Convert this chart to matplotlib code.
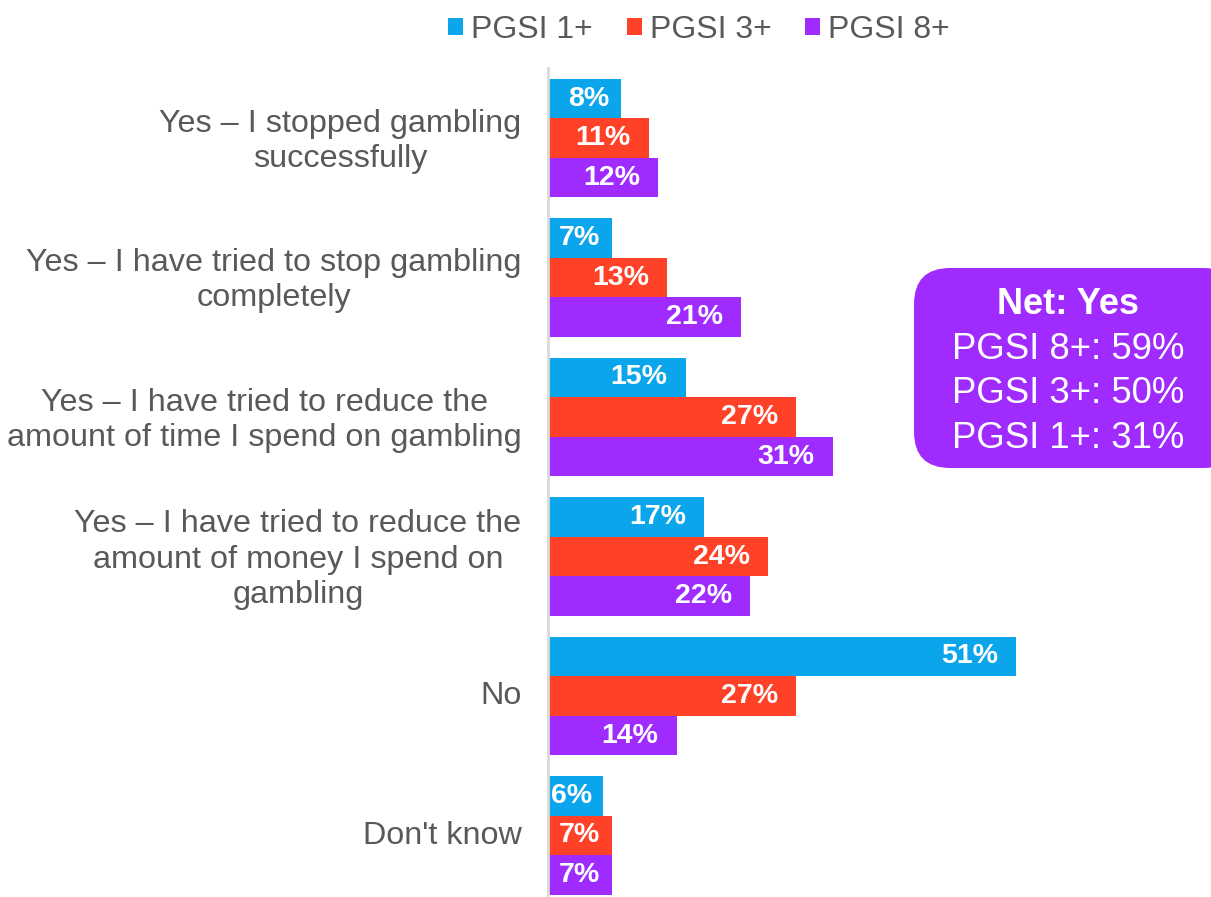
import numpy as np
import matplotlib.pyplot as plt
import matplotlib.transforms as mtransforms
from matplotlib.patches import Patch, FancyBboxPatch

plt.rcParams['font.family'] = ['Liberation Sans', 'DejaVu Sans']

# Survey answers and shares by PGSI group
categories = [
    "Yes \u2013 I stopped gambling\nsuccessfully",
    "Yes \u2013 I have tried to stop gambling\ncompletely",
    "Yes \u2013 I have tried to reduce the\namount of time I spend on gambling",
    "Yes \u2013 I have tried to reduce the\namount of money I spend on\ngambling",
    "No",
    "Don't know",
]
series_names = ["PGSI 1+", "PGSI 3+", "PGSI 8+"]
pgsi1 = [8, 7, 15, 17, 51, 6]
pgsi3 = [11, 13, 27, 24, 27, 7]
pgsi8 = [12, 21, 31, 22, 14, 7]
net_title = "Net: Yes"
net_lines = ["PGSI 8+: 59%", "PGSI 3+: 50%", "PGSI 1+: 31%"]

colors = ["#0AA5EB", "#FF4127", "#A02BFF"]
grey = "#595959"

fig = plt.figure(figsize=(12.11, 8.97), dpi=100)
ax = fig.add_axes([548 / 1211, 0.0, 663 / 1211, 1 - 68 / 897])
px_per_unit = 9.18

y = np.arange(len(categories))
h = 0.2833
for i, (vals, col) in enumerate(zip([pgsi1, pgsi3, pgsi8], colors)):
    pos = y + (i - 1) * h
    ax.barh(pos, vals, height=h, color=col, edgecolor='none')
    for p, v in zip(pos, vals):
        # labels sit inside the bar end; short bars get a tighter inset
        pad = 18 if v >= 10 else 12
        pad = min(pad, v * px_per_unit - 44)
        ax.annotate(f"{v}%", xy=(v, p), xytext=(-pad, 0), textcoords='offset pixels',
                    ha='right', va='center', color='white', fontsize=20.5,
                    fontweight='bold')

ax.set_xlim(0, 663 / px_per_unit)
ax.set_ylim(5.441, -0.502)
ax.set_yticks(y)
ax.set_yticklabels(categories, fontsize=23.3, color=grey, ha='right',
                   multialignment='center', linespacing=1.22)
ax.tick_params(axis='y', length=0, pad=19)
ax.set_xticks([])
for s in ['top', 'right', 'bottom']:
    ax.spines[s].set_visible(False)
ax.spines['left'].set_color('#D9D9D9')
ax.spines['left'].set_linewidth(2)

# nudge category labels up a touch
lift = mtransforms.ScaledTranslation(0, 3 / 100, fig.dpi_scale_trans)
for lab in ax.get_yticklabels():
    lab.set_transform(lab.get_transform() + lift)

# Legend across the top
handles = [Patch(facecolor=c, edgecolor='none') for c in colors]
fig.legend(handles, series_names, loc='center', bbox_to_anchor=(699 / 1211, 1 - 30 / 897),
           ncol=3, frameon=False, fontsize=23, labelcolor=grey,
           handlelength=0.47, handleheight=0.47, handletextpad=0.25,
           columnspacing=1.05, borderaxespad=0)

# Net summary box
box = FancyBboxPatch((914 / 1211, 1 - 468 / 897), (1240 - 914) / 1211, 200 / 897,
                     boxstyle="round,pad=0,rounding_size=0.03",
                     transform=fig.transFigure, facecolor=colors[2], edgecolor='none',
                     mutation_aspect=1211 / 897)
fig.add_artist(box)
fig.text(1068 / 1211, 1 - 305 / 897, net_title, color='white', fontsize=26,
         fontweight='bold', ha='center', va='center')
for k, line in enumerate(net_lines):
    fig.text(1068 / 1211, 1 - (349 + 44.5 * k) / 897, line, color='white',
             fontsize=26.3, ha='center', va='center')

fig.savefig("out.png", dpi=100)
